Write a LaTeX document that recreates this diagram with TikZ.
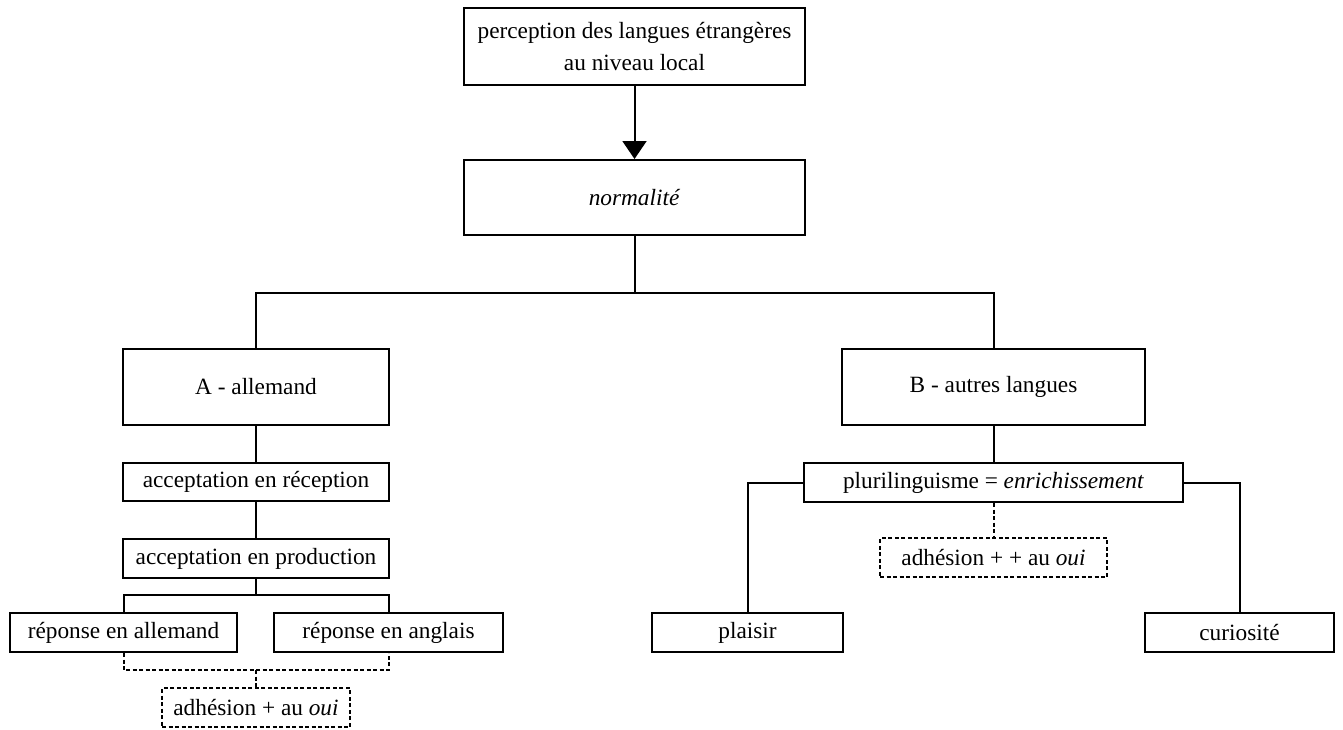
\documentclass[tikz,border=0pt]{standalone}
\usepackage{fontspec}
\setmainfont{Liberation Serif}
\usetikzlibrary{arrows.meta}
\begin{document}
\begin{tikzpicture}[x=1pt,y=-1pt,
  box/.style={draw,line width=2pt,inner sep=0pt,align=center,
    font=\fontsize{23.3}{27}\selectfont},
  dbox/.style={box,dash pattern=on 4pt off 2.5pt},
  link/.style={line width=2pt},
  dlink/.style={line width=2pt,dash pattern=on 4pt off 2.5pt}]
\useasboundingbox (0,0) rectangle (1343,729);

% upper part
\node[box,font=\fontsize{23.3}{32}\selectfont,minimum width=341pt,minimum height=77pt]
  (top) at (634.5,46.5) {perception des langues étrangères\\au niveau local};
\node[box,minimum width=341pt,minimum height=75pt] (norm) at (634.5,197.5)
  {\textit{normalité}};
\node[box,minimum width=266pt,minimum height=76pt] (A) at (256,387) {A - allemand};
\node[box,minimum width=303pt,minimum height=76pt] (B) at (993.5,387) {B - autres langues};

% branch A
\node[box,minimum width=266pt,minimum height=38pt] (recep) at (256,482) {acceptation en réception};
\node[box,minimum width=266pt,minimum height=39pt] (prod) at (256,558.5) {acceptation en production};
\node[box,minimum width=227pt,minimum height=39pt] (repAll) at (123.5,632.5) {réponse en allemand};
\node[box,minimum width=229pt,minimum height=39pt] (repAng) at (388.5,632.5) {réponse en anglais};
\node[dbox,minimum width=188pt,minimum height=39pt] (adhA) at (256,707.5) {adhésion + au \textit{oui}};

% branch B
\node[box,minimum width=379pt,minimum height=39pt] (pluri) at (993.5,482.5)
  {plurilinguisme = \textit{enrichissement}};
\node[dbox,minimum width=227pt,minimum height=39pt] (adhB) at (993.5,557.5) {adhésion + + au \textit{oui}};
\node[box,minimum width=191pt,minimum height=39pt] (plaisir) at (747.5,632.5) {plaisir};
\node[box,minimum width=189pt,minimum height=39pt] (curio) at (1239.5,632.5) {curiosité};

% junction points
\coordinate (split) at (634.5,293);
\coordinate (split2) at (256,595);
\coordinate (join) at (256,670);

% connectors
\draw[link,-{Triangle[width=24pt,length=18pt]}] (top.south) -- (norm.north);
\draw[link] (norm.south) -- (split);
\draw[link] (A.north) |- (split) -| (B.north);
\draw[link] (A.south) -- (recep.north);
\draw[link] (recep.south) -- (prod.north);
\draw[link] (prod.south) -- (split2);
\draw[link] (repAll.north) |- (split2) -| (repAng.north);
\draw[dlink] (repAll.south) |- (join) -| (repAng.south);
\draw[dlink] (join) -- (adhA.north);
\draw[link] (B.south) -- (pluri.north);
\draw[link] (pluri.west) -| (plaisir.north);
\draw[link] (pluri.east) -| (curio.north);
\draw[dlink] (pluri.south) -- (adhB.north);
\end{tikzpicture}
\end{document}
